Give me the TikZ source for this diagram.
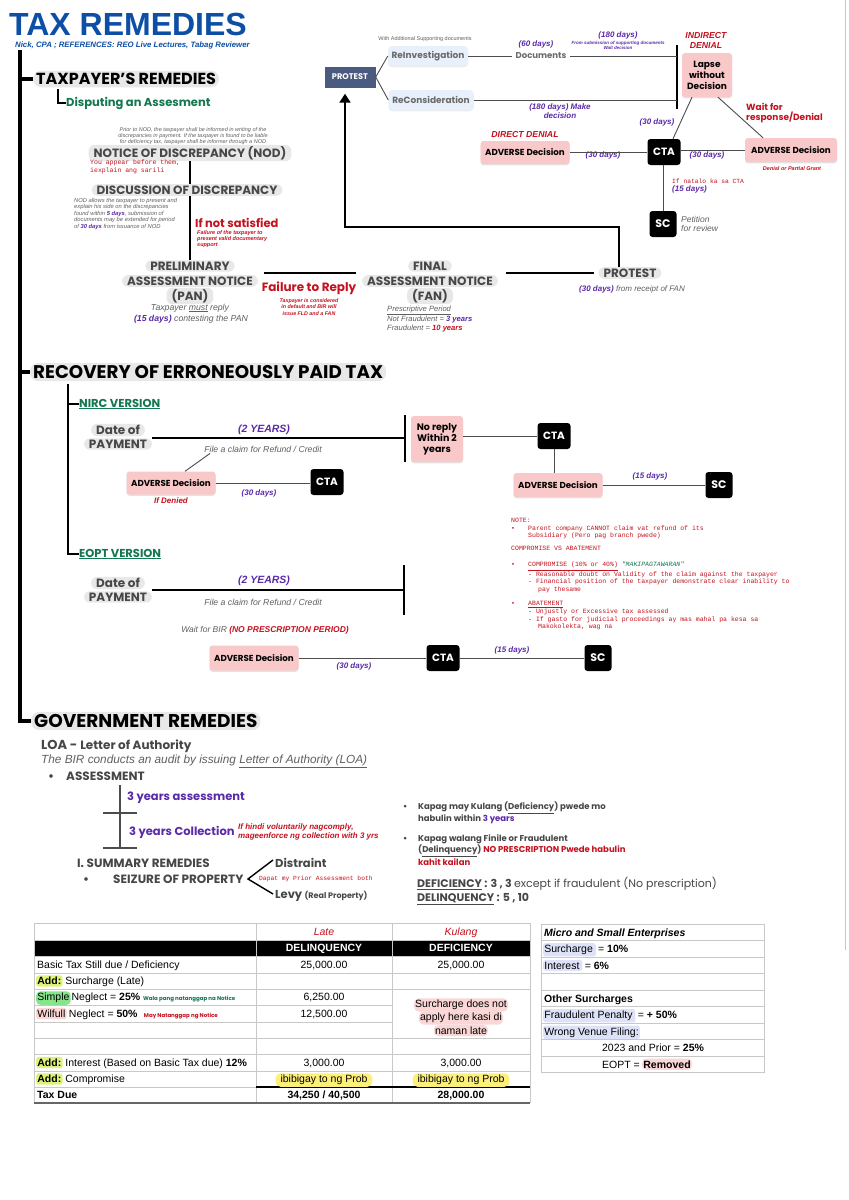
\documentclass[tikz,border=0pt]{standalone}
\usepackage{fontspec}
\setmainfont{Liberation Sans}
\newfontfamily\geo{Poppins}
\newfontfamily\mono{Liberation Mono}
\usetikzlibrary{arrows.meta,calc,positioning,shadows}

\definecolor{titleblue}{HTML}{0D4EA6}
\definecolor{daypurple}{HTML}{5B2AA8}
\definecolor{remred}{HTML}{C4121F}
\definecolor{remgreen}{HTML}{13774F}
\definecolor{txtgray}{HTML}{606060}
\definecolor{headgray}{HTML}{474747}
\definecolor{boxgray}{HTML}{6A6A6A}
\definecolor{pillgray}{HTML}{E8E8E8}
\definecolor{pinkfill}{HTML}{F9C8C8}
\definecolor{protestblue}{HTML}{4B5A7F}
\definecolor{reinvblue}{HTML}{E7F0FB}
\definecolor{gridgray}{HTML}{C8C8C8}
\definecolor{addlime}{HTML}{DDF37C}
\definecolor{simplegreen}{HTML}{86E58A}
\definecolor{softpink}{HTML}{FAD6D6}
\definecolor{probyellow}{HTML}{FCF07A}
\definecolor{lavender}{HTML}{DEE2F8}

\newcommand{\fsz}[2]{\fontsize{#1}{#2}\selectfont}

\tikzset{
  heading/.style={fill=pillgray, rounded corners=8pt, inner xsep=3pt, inner ysep=2.5pt, font=\geo\bfseries\fsz{17.5}{19}},
  pill/.style={fill=pillgray, rounded corners=6pt, inner xsep=5pt, inner ysep=1.5pt, text=headgray, font=\geo\bfseries\fsz{12}{13}},
  pinkbox/.style={fill=pinkfill, rounded corners=3pt, align=center, minimum width=89pt, minimum height=23pt,
    font=\geo\bfseries\fsz{8.7}{11}, drop shadow={shadow xshift=0pt, shadow yshift=-1.3pt, opacity=0.22}},
  ctabox/.style={fill=black, rounded corners=3pt, text=white, minimum width=33pt, minimum height=26pt, font=\geo\bfseries\fsz{10.5}{12}},
  scbox/.style={ctabox, minimum width=27pt, font=\geo\bfseries\fsz{11}{12}},
  revbox/.style={fill=reinvblue, rounded corners=4pt, text=boxgray, minimum height=20pt, font=\geo\bfseries\fsz{9}{10},
    drop shadow={shadow xshift=0pt, shadow yshift=-1.3pt, opacity=0.15}},
  days/.style={text=daypurple, font=\bfseries\itshape\fsz{8}{9}},
  gloss/.style={text=txtgray, font=\itshape\fsz{8.7}{10}},
  smallnote/.style={text=txtgray, font=\itshape\fsz{5.5}{6.2}},
  rednote/.style={text=remred, font=\bfseries\itshape\fsz{5.5}{6.4}},
  monored/.style={text=remred, font=\mono\fsz{6.5}{7.6}},
  geolabel/.style={text=headgray, font=\geo\bfseries\fsz{12}{12}},
  wire/.style={draw=black!70, line width=0.9pt},
  link/.style={draw=black, line width=2pt},
  bar/.style={draw=black, line width=2.6pt},
  cell/.style={font=\fsz{10.5}{12}},
  hlbox/.style={rounded corners=2.5pt, inner xsep=1.2pt, inner ysep=1.8pt},
}

\begin{document}
\begin{tikzpicture}[x=1pt, y=-1pt, every node/.style={inner sep=0pt}]
\useasboundingbox (0,0) rectangle (849,1200);
\fill[white] (0,0) rectangle (849,1200);
\draw[gridgray, line width=0.8pt] (845,0) -- (845,950);

% title
\node[anchor=west, text=titleblue, font=\bfseries\fsz{32}{32}] (title) at (9,24.5) {TAX REMEDIES};
\node[anchor=west, text=titleblue, font=\bfseries\itshape\fsz{7.8}{8}] (byline) at (15,45) {Nick, CPA ; REFERENCES: REO Live Lectures, Tabag Reviewer};

% main spine
\coordinate (spinetop) at (20,50);
\node[heading, anchor=west, font=\geo\bfseries\fsz{16}{17}] (tpr) at (33,79) {TAXPAYER’S REMEDIES};
\node[heading, anchor=west, font=\geo\bfseries\fsz{18.3}{19}] (rec) at (30,372) {RECOVERY OF ERRONEOUSLY PAID TAX};
\node[heading, anchor=west, font=\geo\bfseries\fsz{18.5}{19}] (gov) at (31,721) {GOVERNMENT REMEDIES};
\draw[line width=4pt] (spinetop) |- (gov.west);
\draw[line width=4pt] (spinetop |- tpr.west) -- (tpr.west);
\draw[line width=4pt] (spinetop |- rec.west) -- (rec.west);

\node[anchor=west, text=remgreen, font=\geo\bfseries\fsz{11.5}{12}] (dispute) at (66,103) {Disputing an Assesment};
\coordinate (dispknee) at (58,89);
\draw[line width=1.5pt] (dispknee) |- (dispute.west);

% NOD / discussion
\node[smallnote, align=center] (nodpre) at (193,136) {Prior to NOD, the taxpayer shall be informed in writing of the\\discrepancies in payment. If the taxpayer is found to be liable\\for deficiency tax, taxpayer shall be informer through a NOD};
\node[pill] (nod) at (190,153) {NOTICE OF DISCREPANCY (NOD)};
\node[monored, align=left, anchor=north west] (nodred) at (90,160) {You appear before them,\\iexplain ang sarili};
\node[pill] (dod) at (187,190) {DISCUSSION OF DISCREPANCY};
\node[smallnote, align=left, anchor=north west, font=\itshape\fsz{5.8}{6.4}] (dodnote) at (74,198) {NOD allows the taxpayer to present and\\explain his side on the discrepancies\\found within \textcolor{daypurple}{\bfseries 5 days}, submission of\\documents may be extended for period\\of \textcolor{daypurple}{\bfseries 30 days} from issuance of NOD};
\node[anchor=west, text=remred, font=\geo\bfseries\fsz{11.5}{12}] (notsat) at (195,223) {If not satisfied};
\node[rednote, align=left, anchor=north west] (notsatnote) at (197,230) {Failure of the taxpayer to\\present valid documentary\\support};

% PAN - FAN - PROTEST
\node[pill] (pan1) at (190,266) {PRELIMINARY};
\node[pill] (pan2) at (190,281) {ASSESSMENT NOTICE};
\node[pill] (pan3) at (190,296) {(PAN)};
\node[gloss] (panreply) at (190,308) {Taxpayer \underline{must} reply};
\node[gloss] (pandays) at (191,319) {\textcolor{daypurple}{\bfseries (15 days)} contesting the PAN};
\draw[link] (nod.south) -- (nod.south |- dod.north);
\draw[link] (nod.south |- dod.south) -- (nod.south |- pan1.north);

\node[text=remred, font=\geo\bfseries\fsz{12}{13}] (fail) at (309,288) {Failure to Reply};
\node[rednote, align=center, font=\bfseries\itshape\fsz{5.3}{6.2}] (failnote) at (309,307) {Taxpayer is considered\\in default and BIR will\\issue FLD and a FAN};

\node[pill] (fan1) at (430,266) {FINAL};
\node[pill] (fan2) at (430,281) {ASSESSMENT NOTICE};
\node[pill] (fan3) at (430,296) {(FAN)};
\node[gloss, align=left, anchor=north west, font=\itshape\fsz{7.6}{9}] (fanpp) at (387,306) {\underline{Prescriptive Period}\\Not Fraudulent = \textcolor{daypurple}{\bfseries 3 years}\\Fraudulent = \textcolor{remred}{\bfseries 10 years}};

\node[pill] (protest2) at (630,273) {PROTEST};
\node[gloss, font=\itshape\fsz{8}{9}] (protestnote) at (632,289) {\textcolor{daypurple}{\bfseries (30 days)} from receipt of FAN};

\draw[link] ($(pan2.east)+(6,-8)$) -- ($(fan2.west)+(-6,-8)$);
\draw[link] ($(fan2.east)+(8,-8)$) -- ($(protest2.west)+(-4,0)$);

% back to the first protest
\coordinate (retright) at (619,227);
\coordinate (retknee) at (345,227);
\node[fill=protestblue, text=white, font=\geo\bfseries\fsz{8.2}{9}, minimum width=51pt, minimum height=21pt] (protest1) at (350,77) {PROTEST};
\draw[line width=2pt, -{Triangle[width=11pt,length=9pt]}] (retright |- protest2.north) -- (retright) -- (retknee) -- ($(retknee |- protest1.south)+(0,6)$);

% reinvestigation / reconsideration
\node[revbox, minimum width=80pt] (reinv) at (428,56) {ReInvestigation};
\node[revbox, minimum width=85pt] (recon) at (431,100) {ReConsideration};
\node[text=txtgray, font=\fsz{5.5}{6}] (withdocs) at (425,39) {With Additional Supporting documents};
\draw[wire] (protest1.east) -- (reinv.west);
\draw[wire] (protest1.east) -- (recon.west);
\node[text=boxgray, font=\geo\bfseries\fsz{8.5}{9}] (docs) at (541,56) {Documents};
\node[days] (d60) at (536,44) {(60 days)};
\coordinate (idtop) at (677,45);
\coordinate (idbot) at (677,109);
\draw[bar] (idtop) -- (idbot);
\draw[wire] (reinv.east) -- ([xshift=-3pt]docs.west);
\draw[wire] ([xshift=3pt]docs.east) -- (docs.east -| idtop);
\draw[wire] (recon.east) -- (recon.east -| idtop);
\node[days] (d180a) at (618,35) {(180 days)};
\node[text=daypurple, font=\bfseries\itshape\fsz{4.5}{5}, align=center] (d180note) at (618,45.5) {From submission of supporting documents\\Wait decision};
\node[days, align=center, font=\bfseries\itshape\fsz{8}{9.5}] (d180b) at (560,111) {(180 days) Make\\decision};

% denials and CTA
\node[text=remred, font=\bfseries\itshape\fsz{8.7}{10}, align=center] (indirect) at (706,40) {INDIRECT\\DENIAL};
\node[pinkbox, minimum width=50pt, minimum height=44pt, font=\geo\bfseries\fsz{9}{11}] (lapse) at (707,75) {Lapse\\without\\Decision};
\node[anchor=west, text=remred, font=\geo\bfseries\fsz{9}{10.5}, align=left] (wait) at (746,113) {Wait for\\response/Denial};
\node[ctabox] (cta1) at (664,152) {CTA};
\node[pinkbox] (advL) at (525,152.5) {ADVERSE Decision};
\node[text=remred, font=\bfseries\itshape\fsz{8.7}{9}] (direct) at (525,135) {DIRECT DENIAL};
\node[pinkbox, minimum width=92pt, minimum height=24pt] (advR) at (791,150) {ADVERSE Decision};
\node[text=remred, font=\bfseries\itshape\fsz{5.5}{6}] (advRnote) at (792,169) {Denial or Partial Grant};
\node[days] (d30a) at (657,122) {(30 days)};
\node[days] (d30b) at (603,155) {(30 days)};
\node[days] (d30c) at (707,155) {(30 days)};
\node[scbox] (sc1) at (663,224) {SC};
\draw[wire] ($(lapse.south)+(-15,0)$) -- ($(cta1.north)+(9,0)$);
\draw[wire] ($(lapse.south)+(11,0)$) -- ($(advR.north)+(-28,0)$);
\draw[wire] (advL.east) -- (advL.east -| cta1.west);
\draw[wire] (cta1.east |- advR.west) -- (advR.west);
\draw[wire] (cta1.south -| sc1.north) -- (sc1.north);
\node[monored, font=\mono\fsz{6.3}{7}, anchor=west] (natalo) at (672,181) {If natalo ka sa CTA};
\node[days, anchor=west] (d15a) at (672,189) {(15 days)};
\node[gloss, anchor=west, align=left, font=\itshape\fsz{8.5}{9.5}] (petition) at (681,224) {Petition\\for review};

% recovery of erroneously paid tax
\node[anchor=west, text=remgreen, font=\geo\bfseries\fsz{11.5}{12}] (nirc) at (79,404) {\underline{NIRC VERSION}};
\node[anchor=west, text=remgreen, font=\geo\bfseries\fsz{11.5}{12}] (eopt) at (79,554) {\underline{EOPT VERSION}};
\coordinate (subtop) at (68,384);
\draw[line width=2.2pt] (subtop) |- (eopt.west);
\draw[line width=2.2pt] (subtop |- nirc.west) -- (nirc.west);

% NIRC
\node[pill] (dop1) at (118,430) {Date of};
\node[pill] (dop2) at (118,444) {PAYMENT};
\coordinate (nircbar) at (405,438);
\draw[link] (nircbar -| dop2.east) -- (nircbar);
\draw[bar] ($(nircbar)+(0,-23)$) -- ($(nircbar)+(0,24)$);
\node[text=daypurple, font=\bfseries\itshape\fsz{10.5}{12}] (y2a) at (264,430) {(2 YEARS)};
\node[gloss] (claim1) at (263,449) {File a claim for Refund / Credit};
\node[pinkbox, minimum width=52pt, minimum height=46pt, font=\geo\bfseries\fsz{9.5}{11}] (noreply) at (437,439) {No reply\\Within 2\\years};
\node[ctabox] (cta2) at (554,436) {CTA};
\node[pinkbox, minimum height=24pt] (adv2) at (558,485) {ADVERSE Decision};
\node[scbox] (sc2) at (719,485) {SC};
\node[days] (d15b) at (650,476) {(15 days)};
\draw[wire] (noreply.east |- cta2.west) -- (cta2.west);
\draw[wire] (cta2.south) -- (cta2.south |- adv2.north);
\draw[wire] (adv2.east) -- (sc2.west);
\node[pinkbox] (adv1) at (171,483) {ADVERSE Decision};
\node[text=remred, font=\bfseries\itshape\fsz{8}{9}] (denied) at (171,501) {If Denied};
\node[ctabox] (cta3) at (327,482) {CTA};
\node[days] (d30d) at (259,493) {(30 days)};
\draw[wire] (adv1.east) -- (adv1.east -| cta3.west);
\draw[wire] ($(adv1.north)+(14,0)$) -- ($(claim1.south west)+(6,1)$);

% notes
\node[monored, align=left, anchor=north west] (notes) at (511,518) {NOTE:\\
\makebox[17pt][l]{•}Parent company CANNOT claim vat refund of its\\
\hspace*{17pt}Subsidiary (Pero pag branch pwede)\\[5.5pt]
COMPROMISE VS ABATEMENT\\[8.5pt]
\makebox[17pt][l]{•}\underline{COMPROMISE (10\% or 40\%)} \textcolor{remgreen}{\itshape "MAKIPAGTAWARAN"}\\
\hspace*{17pt}- Reasonable doubt on Validity of the claim against the taxpayer\\
\hspace*{17pt}- Financial position of the taxpayer demonstrate clear inability to\\
\hspace*{27pt}pay thesame\\[7pt]
\makebox[17pt][l]{•}\underline{ABATEMENT}\\
\hspace*{17pt}- Unjustly or Excessive tax assessed\\
\hspace*{17pt}- If gasto for judicial proceedings ay mas mahal pa kesa sa\\
\hspace*{27pt}Makokolekta, wag na};

% EOPT
\node[pill] (dop3) at (118,583) {Date of};
\node[pill] (dop4) at (118,597) {PAYMENT};
\coordinate (eoptbar) at (404,590);
\draw[link] (eoptbar -| dop4.east) -- (eoptbar);
\draw[bar] ($(eoptbar)+(0,-25)$) -- ($(eoptbar)+(0,25)$);
\node[text=daypurple, font=\bfseries\itshape\fsz{10.5}{12}] (y2b) at (264,581) {(2 YEARS)};
\node[gloss] (claim2) at (263,602) {File a claim for Refund / Credit};
\node[gloss, font=\itshape\fsz{8.5}{9}] (waitbir) at (265,630) {Wait for BIR \textcolor{remred}{\bfseries (NO PRESCRIPTION PERIOD)}};
\node[pinkbox, minimum height=25pt] (adv3) at (254,658) {ADVERSE Decision};
\node[ctabox] (cta4) at (443,658) {CTA};
\node[scbox] (sc3) at (598,658) {SC};
\node[days] (d30e) at (354,666) {(30 days)};
\node[days] (d15c) at (512,650) {(15 days)};
\draw[wire] (adv3.east) -- (cta4.west);
\draw[wire] (cta4.east) -- (sc3.west);

% government remedies
\node[anchor=west, text=headgray, font=\geo\bfseries\fsz{13}{14}] (loa) at (41,746) {LOA - {\fsz{12}{12}Letter of Authority}};
\node[anchor=west, text=txtgray, font=\itshape\fsz{11.8}{12}] (loanote) at (41,761) {The BIR conducts an audit by issuing \underline{Letter of Authority (LOA)}};
\node[anchor=west, geolabel] (assess) at (48,776) {\makebox[18pt][l]{•}ASSESSMENT};
\coordinate (asmtop) at (120,785);
\coordinate (asmmid) at (120,813);
\coordinate (asmbot) at (120,848);
\draw[line width=1.2pt, black!70] (asmtop) -- (asmbot);
\draw[line width=1.2pt, black!70] ($(asmmid)+(-17,0)$) -- ($(asmmid)+(17,0)$);
\draw[line width=1.2pt, black!70] ($(asmbot)+(-17,0)$) -- ($(asmbot)+(17,0)$);
\node[anchor=west, text=daypurple, font=\geo\bfseries\fsz{11.5}{12}] (y3a) at (127,798) {3 years assessment};
\node[anchor=west, text=daypurple, font=\geo\bfseries\fsz{11.5}{12}] (y3c) at (129,832) {3 years Collection};
\node[anchor=west, align=left, text=remred, font=\bfseries\itshape\fsz{8}{9}] (y3cnote) at (238,832) {If hindi voluntarily nagcomply,\\mageenforce ng collection with 3 yrs};

\node[anchor=west, geolabel] (summary) at (77,863) {I. SUMMARY REMEDIES};
\node[anchor=west, geolabel] (seizure) at (83,879) {\makebox[30pt][l]{•}SEIZURE OF PROPERTY};
\coordinate (fork) at (248,879);
\node[anchor=west, geolabel, font=\geo\bfseries\fsz{11.5}{12}] (distraint) at (275,863) {Distraint};
\node[anchor=west, geolabel, font=\geo\bfseries\fsz{11.5}{12}] (levy) at (275,896) {Levy {\fsz{8}{9}(Real Property)}};
\draw[line width=1.4pt] ($(distraint.west)+(-2,-3)$) -- (fork) -- ($(levy.west)+(-2,-2)$);
\node[monored, font=\mono\fsz{6.3}{7}, anchor=west] (dapat) at (259,879) {Dapat my Prior Assessment both};

\node[anchor=west, text=headgray, font=\geo\bfseries\fsz{8.5}{9}] (kul1) at (403,808) {\makebox[15pt][l]{•}Kapag may Kulang (\underline{Deficiency}) pwede mo};
\node[anchor=west, text=headgray, font=\geo\bfseries\fsz{8.5}{9}] (kul2) at (418,819) {habulin within \textcolor{daypurple}{3 years}};
\node[anchor=west, text=headgray, font=\geo\bfseries\fsz{8.5}{9}] (fra1) at (403,839) {\makebox[15pt][l]{•}Kapag walang Finile or Fraudulent};
\node[anchor=west, text=headgray, font=\geo\bfseries\fsz{8.5}{9}] (fra2) at (418,851) {(\underline{Delinquency}) \textcolor{remred}{NO PRESCRIPTION Pwede habulin}};
\node[anchor=west, text=remred, font=\geo\bfseries\fsz{8.5}{9}] (fra3) at (418,862) {kahit kailan};
\node[anchor=west, text=headgray, font=\geo\bfseries\fsz{11}{12}] (defic) at (417,884) {\underline{DEFICIENCY} : 3 , 3 {\mdseries except if fraudulent (No prescription)}};
\node[anchor=west, text=headgray, font=\geo\bfseries\fsz{11}{12}] (delinq) at (417,899) {\underline{DELINQUENCY} : 5 , 10};

% penalty table
\fill[black] (34,940) rectangle (530,956);
\foreach \y in {923,940,956,973,989,1038,1054,1071,1087}
  \draw[gridgray, line width=0.8pt] (34,\y) -- (530,\y);
\foreach \y in {1005,1022}
  \draw[gridgray, line width=0.8pt] (34,\y) -- (392,\y);
\foreach \x in {34,256,392,530}
  \draw[gridgray, line width=0.8pt] (\x,923) -- (\x,1103);
\draw[line width=1.6pt] (256,1087) -- (530,1087);
\draw[black!60, line width=1.6pt] (34,1103) -- (530,1103);

\node[cell, anchor=base, text=remred, font=\itshape\fsz{10.5}{12}] (late) at (324,935.3) {Late};
\node[cell, anchor=base, text=remred, font=\itshape\fsz{10.5}{12}] (kulang) at (461,935.3) {Kulang};
\node[cell, anchor=base, text=white, font=\bfseries\fsz{10.5}{12}] (delq) at (324,951.8) {DELINQUENCY};
\node[cell, anchor=base, text=white, font=\bfseries\fsz{10.5}{12}] (defc) at (461,951.8) {DEFICIENCY};
\node[cell, anchor=base west] (basic) at (37,968.3) {Basic Tax Still due / Deficiency};
\node[cell, anchor=base] (basicA) at (324,968.3) {25,000.00};
\node[cell, anchor=base] (basicB) at (461,968.3) {25,000.00};
\node[cell, hlbox, fill=addlime, anchor=base west, font=\bfseries\fsz{10.5}{12}] (add1) at (36,984.8) {Add:};
\node[cell, base right=2.5pt of add1] (surchl) {Surcharge (Late)};
\node[cell, hlbox, fill=simplegreen, anchor=base west, rounded corners=4pt] (simple) at (36,1000.8) {Simple};
\node[cell, base right=0.5pt of simple] (simpneg) {Neglect = \textbf{25\%}};
\node[text=remgreen, font=\geo\bfseries\fsz{5.5}{6}, base right=2.5pt of simpneg] (wala) {Wala pang natanggap na Notice};
\node[cell, anchor=base] (simpA) at (324,1000.8) {6,250.00};
\node[cell, hlbox, fill=softpink, anchor=base west] (wilfull) at (36,1017.3) {Wilfull};
\node[cell, base right=2pt of wilfull] (wilneg) {Neglect = \textbf{50\%}};
\node[text=remred, font=\geo\bfseries\fsz{5.5}{6}, base right=6pt of wilneg] (may) {May Natanggap ng Notice};
\node[cell, anchor=base] (wilA) at (324,1017.3) {12,500.00};
\node[cell, hlbox, fill=softpink, rounded corners=5pt] (nosur1) at (461,1005) {Surcharge does not};
\node[cell, hlbox, fill=softpink, rounded corners=5pt] (nosur2) at (461,1018) {apply here kasi di};
\node[cell, hlbox, fill=softpink, rounded corners=5pt] (nosur3) at (461,1030.5) {naman late};
\node[cell, hlbox, fill=addlime, anchor=base west, font=\bfseries\fsz{10.5}{12}] (add2) at (36,1066.3) {Add:};
\node[cell, base right=2.5pt of add2] (interest) {Interest (Based on Basic Tax due) \textbf{12\%}};
\node[cell, anchor=base] (intA) at (324,1066.3) {3,000.00};
\node[cell, anchor=base] (intB) at (461,1066.3) {3,000.00};
\node[cell, hlbox, fill=addlime, anchor=base west, font=\bfseries\fsz{10.5}{12}] (add3) at (36,1082.8) {Add:};
\node[cell, base right=2.5pt of add3] (compro) {Compromise};
\node[cell, hlbox, fill=probyellow, rounded corners=5pt, inner xsep=5pt, anchor=base] (probA) at (324,1082.8) {ibibigay to ng Prob};
\node[cell, hlbox, fill=probyellow, rounded corners=5pt, inner xsep=5pt, anchor=base] (probB) at (461,1082.8) {ibibigay to ng Prob};
\node[cell, anchor=base west, font=\bfseries\fsz{10.5}{12}] (taxdue) at (37,1098.8) {Tax Due};
\node[cell, anchor=base, font=\bfseries\fsz{10.5}{12}] (dueA) at (324,1098.8) {34,250 / 40,500};
\node[cell, anchor=base, font=\bfseries\fsz{10.5}{12}] (dueB) at (461,1098.8) {28,000.00};

% micro and small enterprises table
\foreach \r in {0,...,9}
  \draw[gridgray, line width=0.8pt] (541,{924+16.5*\r}) -- (764,{924+16.5*\r});
\foreach \x in {541,764}
  \draw[gridgray, line width=0.8pt] (\x,924) -- (\x,1072.5);
\node[cell, anchor=base west, font=\bfseries\itshape\fsz{10.5}{12}] (mse) at (544,936) {Micro and Small Enterprises};
\node[cell, hlbox, fill=lavender, anchor=base west] (surc) at (543,952.5) {Surcharge\,};
\node[cell, base right=2pt of surc] (surcv) {= \textbf{10\%}};
\node[cell, hlbox, fill=lavender, anchor=base west] (intr) at (543,969) {Interest\,};
\node[cell, base right=2pt of intr] (intrv) {= \textbf{6\%}};
\node[cell, anchor=base west, font=\bfseries\fsz{10.5}{12}] (other) at (544,1002) {Other Surcharges};
\node[cell, hlbox, fill=lavender, anchor=base west] (fraud) at (543,1018.5) {Fraudulent Penalty\,};
\node[cell, base right=2pt of fraud] (fraudv) {= \textbf{+ 50\%}};
\node[cell, hlbox, fill=lavender, anchor=base west] (venue) at (543,1035) {Wrong Venue Filing:};
\node[cell, anchor=base] (prior) at (653,1051.5) {2023 and Prior = \textbf{25\%}};
\node[cell, anchor=base east] (eoptl) at (640,1068) {EOPT =};
\node[cell, hlbox, fill=softpink, rounded corners=4pt, font=\bfseries\fsz{10.5}{12}, base right=2pt of eoptl] (removed) {Removed};
\end{tikzpicture}
\end{document}
